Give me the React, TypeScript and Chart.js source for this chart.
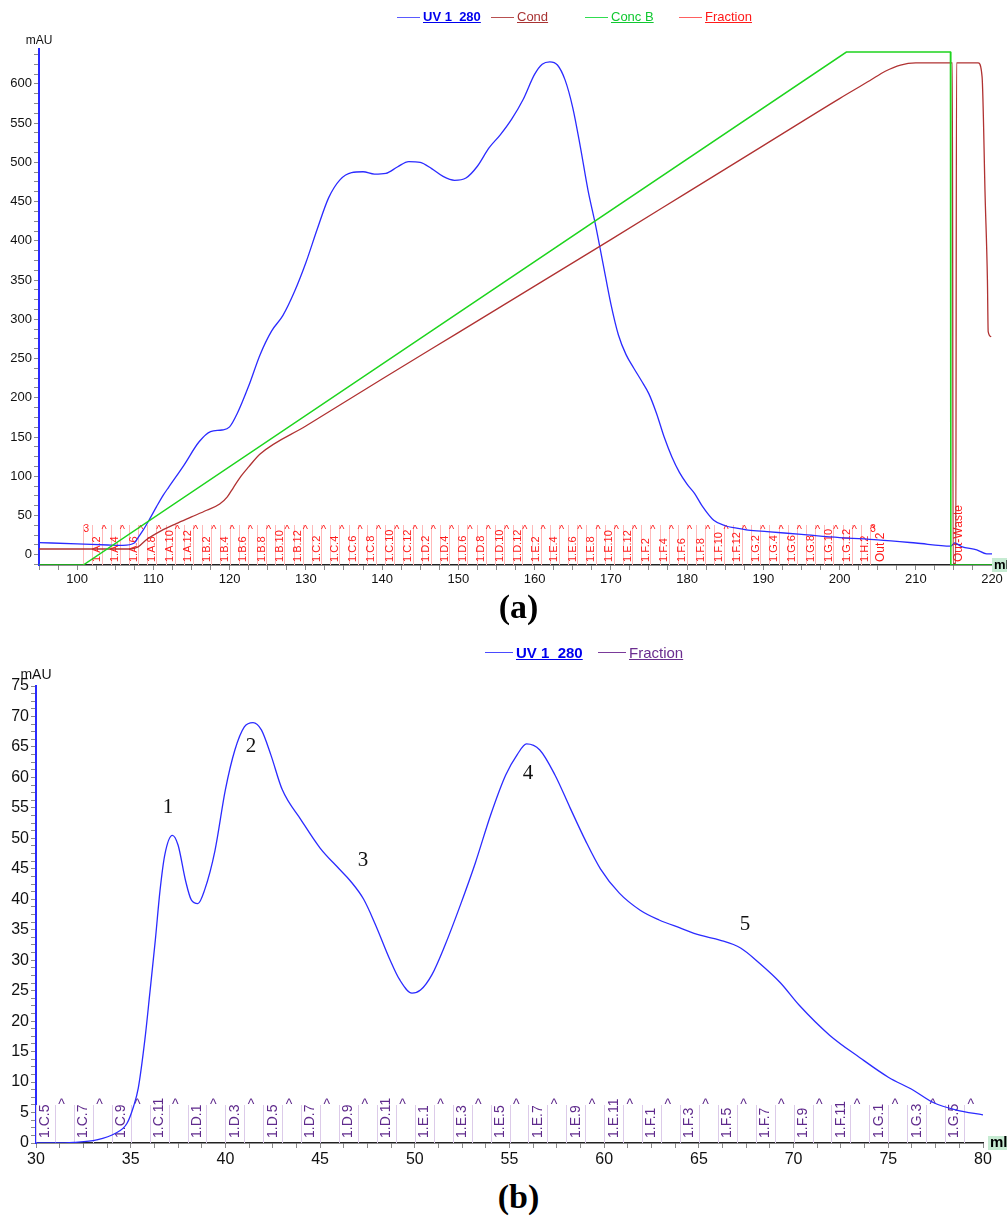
import React, { useEffect, useRef } from 'react';
import { Chart, registerables } from 'chart.js';
Chart.register(...registerables);

const FONT = '"Liberation Sans", Arial, sans-serif';
const SERIF = '"Liberation Serif", "Times New Roman", serif';

const BLUE = '#2b2bff';
const BROWN = '#b03232';
const GREEN = '#1ed41e';
const RED = '#ff1a1a';
const PURPLE = '#5f2a8c';

// ---------- Chart (a) ----------
const uvA_ml = [95, 100, 104, 106, 107.5, 108, 108.7, 109.6, 110.4, 111.3, 112, 114, 116, 117.5, 119, 120, 121, 122.5, 124, 125.5, 127, 128.5, 130, 131.5, 133, 134.5, 136, 137.5, 139, 140.5, 142, 143.5, 145, 146.5, 148, 149.5, 151, 152.5, 154, 155.5, 157, 158.5, 160, 161, 162, 163, 164, 165, 166, 167, 168, 169, 170, 171, 172, 173, 174, 175, 176, 177, 178, 179, 180, 181, 182, 183.5, 185, 186.5, 188, 190.5, 195, 200, 205, 210, 214.6, 215.1, 216, 218, 219.3, 220];
const uvA_mAU = [15.5, 14, 12.5, 12, 15, 22, 32, 47, 61, 76, 86, 114, 144, 157, 159, 163, 180, 215, 255, 285, 305, 335, 372, 415, 455, 478, 487, 488, 485, 486, 494, 501, 500, 492, 482, 477, 480, 495, 518, 535, 555, 580, 612, 625, 628, 624, 605, 570, 520, 465, 420, 370, 320, 280, 255, 238, 222, 205, 180, 150, 125, 105, 90, 78, 62, 44, 37, 34, 31.5, 29.5, 26, 22, 19, 15, 11, 15, 10.5, 6.4, 1.3, 1.3];

const condA_ml = [95, 107, 108, 109, 111, 113, 115, 117, 118.7, 119.7, 120.5, 121.5, 122.5, 124, 130, 140, 150, 160, 170, 180, 190, 200, 204, 206, 208, 210, 214.8, 214.9, 215.25, 215.35, 218.2, 218.7, 219.1, 219.4, 219.5, 219.9];
const condA_val = [3.1, 3.1, 3.5, 4.8, 6.6, 8.0, 9.3, 10.6, 11.8, 13.2, 15, 17.2, 19, 21.5, 26.9, 36, 45, 54, 63, 72.1, 81.2, 90.3, 93.8, 95.6, 96.8, 97.2, 97.2, 0.3, 0.3, 97.2, 97.2, 94.5, 71.3, 55.2, 45.2, 44.2];

const concA_ml = [95, 100.8, 200.9, 214.55, 214.6, 220];
const concA_pct = [0, 0, 100, 100, 0, 0];

const xLabelsA = [100, 110, 120, 130, 140, 150, 160, 170, 180, 190, 200, 210, 220];
const yLabelsA = [0, 50, 100, 150, 200, 250, 300, 350, 400, 450, 500, 550, 600];

const fracA_labels = ['1.A.2', '1.A.4', '1.A.6', '1.A.8', '1.A.10', '1.A.12', '1.B.2', '1.B.4', '1.B.6', '1.B.8', '1.B.10', '1.B.12', '1.C.2', '1.C.4', '1.C.6', '1.C.8', '1.C.10', '1.C.12', '1.D.2', '1.D.4', '1.D.6', '1.D.8', '1.D.10', '1.D.12', '1.E.2', '1.E.4', '1.E.6', '1.E.8', '1.E.10', '1.E.12', '1.F.2', '1.F.4', '1.F.6', '1.F.8', '1.F.10', '1.F.12', '1.G.2', '1.G.4', '1.G.6', '1.G.8', '1.G.10', '1.G.12', '1.H.2'];
const fracA_start = [102.0, 104.4, 106.8, 109.2, 111.6, 114.0, 116.4, 118.8, 121.2, 123.6, 126.0, 128.4, 130.8, 133.2, 135.6, 138.0, 140.4, 142.8, 145.2, 147.6, 150.0, 152.4, 154.8, 157.2, 159.6, 162.0, 164.4, 166.8, 169.2, 171.6, 174.0, 176.4, 178.8, 181.2, 183.6, 186.0, 188.4, 190.8, 193.2, 195.6, 198.0, 200.4, 202.8];
const fracA_width = 1.2;
const fracA_marks = [100.8, 204.0];
const fracA_extraLabels = ['Out 2', 'Out-Waste'];
const fracA_extraPos = [205.4, 215.6];

// ---------- Chart (b) ----------
const uvB_ml = [30, 31, 32, 33.2, 34.2, 34.8, 35.15, 35.4, 35.75, 36.0, 36.3, 36.55, 36.8, 37.2, 37.5, 37.9, 38.2, 38.55, 38.9, 39.45, 40.0, 40.5, 41.0, 41.46, 41.9, 42.4, 43.0, 44.0, 45.0, 46.0, 46.6, 47.3, 47.9, 48.7, 49.2, 49.85, 50.3, 50.9, 51.6, 52.4, 53.2, 54.0, 54.8, 55.4, 55.9, 56.6, 57.4, 58.2, 59.0, 59.8, 60.8, 61.9, 62.9, 64.0, 65.06, 66.1, 67.2, 68.2, 69.3, 70.3, 71.9, 73.5, 75.0, 76.3, 77.4, 78.6, 80.0];
const uvB_mAU = [0, 0, 0.1, 0.5, 1.6, 3.2, 6, 9, 17, 24.3, 33.3, 41.5, 47.3, 50.5, 48.9, 43, 39.9, 39.3, 41.5, 48, 58, 64.5, 68.3, 69, 67.8, 63.7, 58, 53, 48.4, 45, 43, 40, 36, 30, 26.8, 24.6, 25.1, 27.6, 32.5, 39, 46, 53.8, 60.4, 63.7, 65.5, 64.5, 60.4, 55, 49.7, 45, 41, 38.2, 36.6, 35.3, 34.1, 33.3, 32, 29.5, 26.3, 22.6, 17.7, 14, 10.8, 8.7, 6.6, 5.4, 4.6];

const xLabelsB = [30, 35, 40, 45, 50, 55, 60, 65, 70, 75, 80];
const yLabelsB = [0, 5, 10, 15, 20, 25, 30, 35, 40, 45, 50, 55, 60, 65, 70, 75];

const fracB_labels = ['1.C.5', '1.C.7', '1.C.9', '1.C.11', '1.D.1', '1.D.3', '1.D.5', '1.D.7', '1.D.9', '1.D.11', '1.E.1', '1.E.3', '1.E.5', '1.E.7', '1.E.9', '1.E.11', '1.F.1', '1.F.3', '1.F.5', '1.F.7', '1.F.9', '1.F.11', '1.G.1', '1.G.3', '1.G.5'];
const fracB_start = [30, 32, 34, 36, 38, 40, 42, 44, 46, 48, 50, 52, 54, 56, 58, 60, 62, 64, 66, 68, 70, 72, 74, 76, 78];
const fracB_width = 1;

const peakB_labels = ['1', '2', '3', '4', '5'];
const peakB_ml = [36.97, 41.35, 47.26, 55.98, 67.43];
const peakB_mAU = [55.0, 65.0, 46.4, 60.6, 35.8];

// ---------- helpers ----------
const pts = (xs: number[], ys: number[]) => xs.map((x, i) => ({ x, y: ys[i] }));
const labelIf = (list: number[]) => (v: any) => {
  const n = Number(v);
  return list.some((t) => Math.abs(t - n) < 1e-6) ? String(n) : '';
};

function fractionPlugin(o: any) {
  return {
    id: 'fractions',
    beforeDatasetsDraw(chart: any) {
      const { ctx, chartArea, scales } = chart;
      const xs = scales.x;
      const bottom = chartArea.bottom;
      ctx.save();
      ctx.beginPath();
      ctx.rect(chartArea.left, chartArea.top, chartArea.right - chartArea.left, chartArea.bottom - chartArea.top);
      ctx.clip();
      const set = new Set<number>();
      o.starts.forEach((s: number) => {
        if (o.withPrev) set.add(Math.round((s - o.w) * 1000) / 1000);
        set.add(Math.round(s * 1000) / 1000);
        set.add(Math.round((s + o.w) * 1000) / 1000);
      });
      ctx.strokeStyle = o.lineColor;
      ctx.lineWidth = 1;
      ctx.beginPath();
      set.forEach((b) => {
        const x = Math.round(xs.getPixelForValue(b)) + 0.5;
        ctx.moveTo(x, bottom);
        ctx.lineTo(x, bottom - o.lineH);
      });
      ctx.stroke();
      ctx.fillStyle = o.textColor;
      ctx.font = o.font;
      o.labels.forEach((lab: string, i: number) => {
        const cx = xs.getPixelForValue(o.starts[i] + o.w / 2);
        ctx.save();
        ctx.translate(cx, bottom - o.textOff);
        ctx.rotate(-Math.PI / 2);
        ctx.textAlign = 'left';
        ctx.textBaseline = 'middle';
        ctx.fillText(lab, 0, 0);
        ctx.restore();
        ctx.textAlign = 'center';
        ctx.textBaseline = 'top';
        ctx.fillText('^', xs.getPixelForValue(o.starts[i] + o.w) + o.caretDx, bottom - o.caretDy);
      });
      if (o.marks) {
        ctx.font = o.markFont;
        ctx.textAlign = 'center';
        ctx.textBaseline = 'top';
        o.marks.forEach((m: number) => ctx.fillText('3', xs.getPixelForValue(m) + 3, bottom - o.caretDy));
      }
      if (o.extraLabels) {
        ctx.font = o.extraFont;
        o.extraLabels.forEach((lab: string, i: number) => {
          const cx = xs.getPixelForValue(o.extraPos[i]);
          ctx.save();
          ctx.translate(cx, bottom - o.textOff);
          ctx.rotate(-Math.PI / 2);
          ctx.textAlign = 'left';
          ctx.textBaseline = 'middle';
          ctx.fillText(lab, 0, 0);
          ctx.restore();
        });
      }
      ctx.restore();
    },
  };
}

function decorPlugin(o: any) {
  return {
    id: 'decor',
    afterDraw(chart: any) {
      const { ctx, chartArea, scales } = chart;
      ctx.save();
      ctx.fillStyle = '#111';
      ctx.font = o.unitFont;
      ctx.textAlign = 'center';
      ctx.textBaseline = 'middle';
      ctx.fillText('mAU', o.unitX, o.unitY);
      const bx = chartArea.right + o.boxGap;
      ctx.fillStyle = '#c6ebd2';
      ctx.fillRect(bx, chartArea.bottom - o.boxH / 2, chart.width - bx, o.boxH);
      ctx.fillStyle = '#000';
      ctx.font = o.mlFont;
      ctx.textAlign = 'left';
      ctx.fillText('ml', bx + 2, chartArea.bottom);
      if (o.peaks) {
        ctx.font = o.peakFont;
        ctx.fillStyle = '#111';
        ctx.textAlign = 'center';
        ctx.textBaseline = 'middle';
        o.peaks.labels.forEach((l: string, i: number) => {
          ctx.fillText(l, scales.x.getPixelForValue(o.peaks.x[i]), scales.y.getPixelForValue(o.peaks.y[i]));
        });
      }
      ctx.restore();
    },
  };
}

function axisX(min: number, max: number, step: number, labels: number[], size: number, h: number) {
  return {
    type: 'linear',
    min,
    max,
    ticks: {
      stepSize: step,
      autoSkip: false,
      maxRotation: 0,
      includeBounds: false,
      callback: labelIf(labels),
      font: { family: FONT, size },
      color: '#111',
      padding: 2,
    },
    grid: { drawOnChartArea: false, drawTicks: true, tickLength: 5, tickColor: '#8a8a8a' },
    border: { display: true, color: '#222', width: 1.5 },
    afterFit: (s: any) => {
      s.height = h;
    },
  };
}

function axisY(min: number, max: number, step: number, labels: number[], size: number, w: number) {
  return {
    type: 'linear',
    min,
    max,
    ticks: {
      stepSize: step,
      autoSkip: false,
      includeBounds: false,
      callback: labelIf(labels),
      font: { family: FONT, size },
      color: '#111',
      padding: 2,
    },
    grid: { drawOnChartArea: false, drawTicks: true, tickLength: 5, tickColor: '#8a8a8a' },
    border: { display: true, color: BLUE, width: 2 },
    afterFit: (s: any) => {
      s.width = w;
    },
  };
}

function ChartA() {
  const ref = useRef<HTMLCanvasElement>(null);
  useEffect(() => {
    const chart = new Chart(ref.current as HTMLCanvasElement, {
      type: 'line',
      data: {
        datasets: [
          { label: 'Conc B', data: pts(concA_ml, concA_pct), borderColor: GREEN, borderWidth: 1.5, pointRadius: 0, tension: 0, yAxisID: 'yConc' },
          { label: 'Cond', data: pts(condA_ml, condA_val), borderColor: BROWN, borderWidth: 1.3, pointRadius: 0, cubicInterpolationMode: 'monotone', yAxisID: 'yCond' },
          { label: 'UV 1_280', data: pts(uvA_ml, uvA_mAU), borderColor: BLUE, borderWidth: 1.3, pointRadius: 0, cubicInterpolationMode: 'monotone', yAxisID: 'y' },
        ],
      },
      options: {
        responsive: false,
        animation: false,
        events: [],
        layout: { padding: { left: 0, right: 15, top: 48.5, bottom: 0 } },
        plugins: { legend: { display: false }, tooltip: { enabled: false } },
        scales: {
          x: axisX(95, 220, 2.5, xLabelsA, 13, 35),
          y: axisY(-13, 645, 12.5, yLabelsA, 13, 39),
          yConc: { type: 'linear', display: false, min: 0, max: 100.7 },
          yCond: { type: 'linear', display: false, min: 0, max: 100 },
        },
      } as any,
      plugins: [
        fractionPlugin({
          labels: fracA_labels,
          starts: fracA_start,
          w: fracA_width,
          withPrev: true,
          lineColor: '#ffb9b9',
          lineH: 40,
          textColor: RED,
          font: `11px ${FONT}`,
          textOff: 3,
          caretDx: 2.5,
          caretDy: 41,
          marks: fracA_marks,
          markFont: `10px ${FONT}`,
          extraLabels: fracA_extraLabels,
          extraPos: fracA_extraPos,
          extraFont: `12px ${FONT}`,
        }),
        decorPlugin({
          unitFont: `12px ${FONT}`,
          unitX: 39,
          unitY: 41,
          boxGap: 0,
          boxH: 14,
          mlFont: `bold 13px ${FONT}`,
        }),
      ],
    } as any);
    return () => chart.destroy();
  }, []);
  return <canvas ref={ref} width={1007} height={600} style={{ position: 'absolute', left: 0, top: 0 }} />;
}

function ChartB() {
  const ref = useRef<HTMLCanvasElement>(null);
  useEffect(() => {
    const chart = new Chart(ref.current as HTMLCanvasElement, {
      type: 'line',
      data: {
        datasets: [
          { label: 'UV 1_280', data: pts(uvB_ml, uvB_mAU), borderColor: BLUE, borderWidth: 1.3, pointRadius: 0, cubicInterpolationMode: 'monotone', yAxisID: 'y' },
        ],
      },
      options: {
        responsive: false,
        animation: false,
        events: [],
        layout: { padding: { left: 0, right: 24, top: 56, bottom: 0 } },
        plugins: { legend: { display: false }, tooltip: { enabled: false } },
        scales: {
          x: axisX(30, 80, 1.25, xLabelsB, 16, 27),
          y: axisY(0, 75, 1.25, yLabelsB, 16, 36),
        },
      } as any,
      plugins: [
        fractionPlugin({
          labels: fracB_labels,
          starts: fracB_start,
          w: fracB_width,
          withPrev: false,
          lineColor: '#dccbe9',
          lineH: 38,
          textColor: PURPLE,
          font: `14px ${FONT}`,
          textOff: 5,
          caretDx: 6.7,
          caretDy: 45,
        }),
        decorPlugin({
          unitFont: `14px ${FONT}`,
          unitX: 36,
          unitY: 45,
          boxGap: 5,
          boxH: 14,
          mlFont: `bold 15px ${FONT}`,
          peaks: { labels: peakB_labels, x: peakB_ml, y: peakB_mAU },
          peakFont: `21px ${SERIF}`,
        }),
      ],
    } as any);
    return () => chart.destroy();
  }, []);
  return <canvas ref={ref} width={1007} height={540} style={{ position: 'absolute', left: 0, top: 630 }} />;
}

function LegendItem(p: { x: number; y: number; lineW: number; color: string; textColor: string; label: string; bold?: boolean; size: number }) {
  return (
    <>
      <div style={{ position: 'absolute', left: p.x, top: p.y - 0.75, width: p.lineW, height: 0, borderTop: `1.5px solid ${p.color}` }} />
      <span
        style={{
          position: 'absolute',
          left: p.x + p.lineW + 3,
          top: p.y - p.size * 0.62,
          fontFamily: FONT,
          fontSize: p.size,
          lineHeight: `${p.size * 1.2}px`,
          fontWeight: p.bold ? 'bold' : 'normal',
          color: p.textColor,
          textDecoration: 'underline',
          whiteSpace: 'nowrap',
        }}
      >
        {p.label}
      </span>
    </>
  );
}

export default function App() {
  return (
    <div style={{ position: 'absolute', left: 0, top: 0, width: 1007, height: 1219, background: '#fff', overflow: 'hidden' }}>
      <ChartA />
      <ChartB />
      <LegendItem x={397} y={17.3} lineW={23} color="#5a5aff" textColor="#0000ee" label="UV 1_280" bold size={13} />
      <LegendItem x={491} y={17.3} lineW={23} color="#b85050" textColor="#a83232" label="Cond" size={13} />
      <LegendItem x={585} y={17.3} lineW={23} color="#30dd50" textColor="#10c830" label="Conc B" size={13} />
      <LegendItem x={679} y={17.3} lineW={23} color="#ff6060" textColor="#ff1a1a" label="Fraction" size={13} />
      <LegendItem x={485} y={653} lineW={28} color="#4a4aff" textColor="#0000ee" label="UV 1_280" bold size={15} />
      <LegendItem x={598} y={653} lineW={28} color="#7a3a9a" textColor="#6b2d8f" label="Fraction" size={15} />
      <div style={{ position: 'absolute', left: 0, width: 1007, top: 586, textAlign: 'center', fontFamily: SERIF, fontSize: 34, fontWeight: 'bold', lineHeight: '42px', color: '#000', paddingLeft: 30, boxSizing: 'border-box' }}>
        (a)
      </div>
      <div style={{ position: 'absolute', left: 0, width: 1007, top: 1176, textAlign: 'center', fontFamily: SERIF, fontSize: 34, fontWeight: 'bold', lineHeight: '42px', color: '#000', paddingLeft: 30, boxSizing: 'border-box' }}>
        (b)
      </div>
    </div>
  );
}
